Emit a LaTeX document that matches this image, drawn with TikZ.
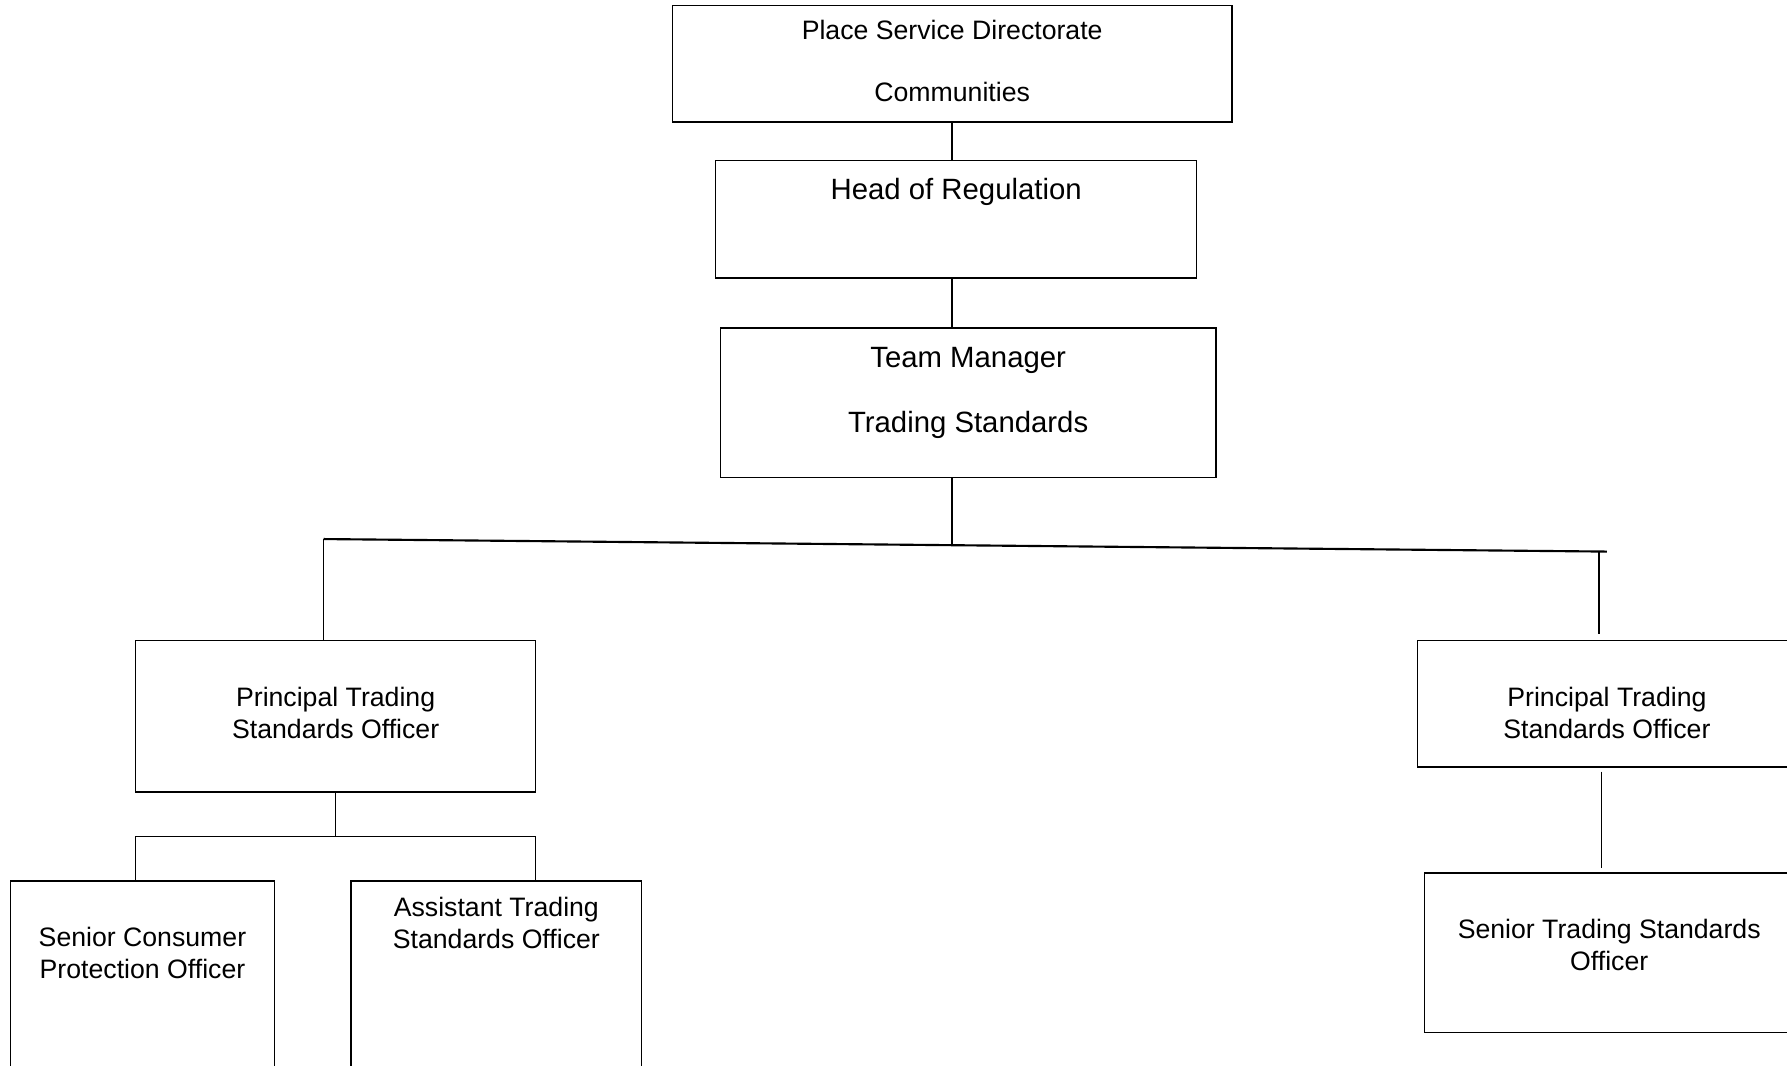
\documentclass[tikz,border=0pt]{standalone}
\usepackage{fontspec}
\setmainfont{Liberation Sans}

\begin{document}
\begin{tikzpicture}[x=0.4274pt, y=-0.4274pt, line width=0.55pt,
		box/.style={shape=rectangle, draw, inner sep=0pt},
		big/.style={font=\fontsize{11}{13.6}\selectfont},
		bus/.style={line width=0.8pt}]
		
		\clip (0,0) rectangle (1568,935);
		
		\node (v0) at (835.5,56) [box, minimum width=209.85pt, minimum height=43.59pt] {\begin{tabular}{c}
			Place Service Directorate \\[11.1pt]
			Communities \\
			\end{tabular}};
		\node (v1) at (839,192.5) [box, big, minimum width=180.36pt, minimum height=44.02pt] {\begin{tabular}{c}
			Head of Regulation \\[20.2pt]
			\end{tabular}};
		\node (v2) at (849.5,353.5) [box, big, minimum width=185.92pt, minimum height=55.99pt] {\begin{tabular}{c}
			Team Manager \\[10.8pt]
			Trading Standards \\[7.7pt]
			\end{tabular}};
		\node (v3) at (294.5,628.5) [box, minimum width=150.02pt, minimum height=56.84pt] {\begin{tabular}{c}
			Principal Trading \\
			Standards Officer \\
			\end{tabular}};
		\node (v4) at (1410,617.5) [box, minimum width=141.9pt, minimum height=47.44pt] {\begin{tabular}{c}
			\rule{0pt}{18pt}Principal Trading \\
			Standards Officer \\
			\end{tabular}};
		\node (v5) at (1412,836) [box, minimum width=138.48pt, minimum height=59.84pt] {\begin{tabular}{c}
			Senior Trading Standards \\
			Officer \\[3.6pt]
			\end{tabular}};
		\node (v6) at (125,879) [box, minimum width=99.16pt, minimum height=90.61pt] {\begin{tabular}{c}
			Senior Consumer \\
			Protection Officer \\[34pt]
			\end{tabular}};
		\node (v7) at (435.5,879) [box, minimum width=108.99pt, minimum height=90.61pt] {\begin{tabular}{c}
			Assistant Trading \\
			Standards Officer \\[56.6pt]
			\end{tabular}};
		
		\coordinate (bl) at (284,473);
		\coordinate (br) at (1410,484);
		\coordinate (bm) at (835.5,478.4);
		\coordinate (rd) at (1403,483.9);
		\coordinate (rs) at (1405,677);
		\coordinate (sl) at (119,734);
		\coordinate (sr) at (470,734);
		
		\draw (v0.south) -- (v0.south |- v1.north);
		\draw (v1.south -| v0.south) -- (v2.north -| v0.south);
		\draw (v2.south -| v0.south) -- (bm);
		\draw[bus] (bl) -- (br);
		\draw (bl) -- (bl |- v3.north);
		\draw (rd) -- ([yshift=2pt]rd |- v4.north);
		\draw (rs) -- ([yshift=1.7pt]rs |- v5.north);
		\draw (v3.south) -- (v3.south |- sl);
		\draw (sl |- v6.north) -- (sl) -- (sr) -- (sr |- v7.north);
	\end{tikzpicture}
\end{document}
